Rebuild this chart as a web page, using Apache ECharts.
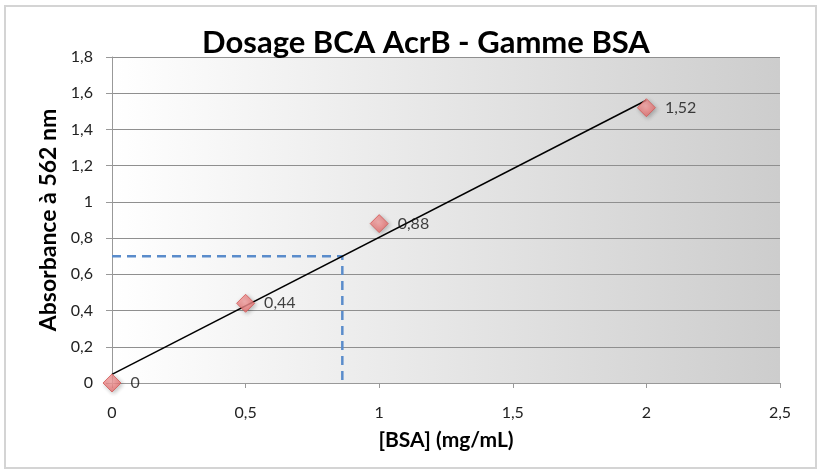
<!DOCTYPE html>
<html>
<head>
<meta charset="utf-8">
<script src="https://cdn.jsdelivr.net/npm/echarts@6/dist/echarts.min.js"></script>
<style>
  html, body { margin: 0; padding: 0; background: #fff; }
  #chart { width: 821px; height: 470px; }
</style>
</head>
<body>
<div id="chart"></div>
<script>
// Standard range: BSA concentration (mg/mL) vs absorbance at 562 nm
const concentrations = [0, 0.5, 1, 2];
const absorbances = [0, 0.44, 0.88, 1.52];

// Linear trendline endpoints
const trendX = [0, 2];
const trendY = [0.048, 1.561];

// Reading of the unknown sample on the curve
const sampleConc = 0.862;
const sampleAbs = 0.7;

const FONT = 'Lato, "Open Sans", sans-serif';
const fmt = v => String(v).replace('.', ',');

const chart = echarts.init(document.getElementById('chart'));

chart.setOption({
  animation: false,
  title: {
    text: 'Dosage BCA AcrB - Gamme BSA',
    left: 421, top: 22, textAlign: 'center',
    textStyle: { fontFamily: FONT, fontSize: 31, fontWeight: 'bold', color: '#000' }
  },
  graphic: [{
    type: 'rect', z: -10, silent: true,
    shape: { x: 5, y: 6, width: 811, height: 462 },
    style: { fill: 'none', stroke: '#d4d4d4', lineWidth: 2 }
  }],
  grid: {
    left: 112, right: 41, top: 57, bottom: 87,
    show: true, borderWidth: 0,
    backgroundColor: new echarts.graphic.LinearGradient(0, 0, 1, 0, [
      { offset: 0, color: '#ffffff' },
      { offset: 1, color: '#cdcdcd' }
    ])
  },
  xAxis: {
    type: 'value', min: 0, max: 2.5, interval: 0.5,
    name: '[BSA] (mg/mL)', nameLocation: 'middle', nameGap: 47,
    nameTextStyle: { fontFamily: FONT, fontSize: 21, fontWeight: 'bold', color: '#000' },
    axisLine: { show: true, lineStyle: { color: '#999', width: 1 } },
    axisTick: { show: true, length: 5, lineStyle: { color: '#999' } },
    axisLabel: { formatter: fmt, margin: 22, fontFamily: FONT, fontSize: 16, color: '#222' },
    splitLine: { show: false }
  },
  yAxis: {
    type: 'value', min: 0, max: 1.8, interval: 0.2,
    name: 'Absorbance à 562 nm', nameLocation: 'middle', nameGap: 52,
    nameTextStyle: { fontFamily: FONT, fontSize: 23, fontWeight: 'bold', color: '#000' },
    axisLine: { show: true, lineStyle: { color: '#999', width: 1 } },
    axisTick: { show: true, length: 6, lineStyle: { color: '#999' } },
    axisLabel: { formatter: v => fmt(Math.round(v * 10) / 10), margin: 19, fontFamily: FONT, fontSize: 16, color: '#222' },
    splitLine: { show: true, lineStyle: { color: '#8f8f8f', width: 1.2 } }
  },
  series: [
    {
      type: 'line', name: 'lecture',
      data: [[0, sampleAbs], [sampleConc, sampleAbs], [sampleConc, 0]],
      symbol: 'none', silent: true, z: 2,
      lineStyle: { color: '#5a8ccb', width: 2.5, type: [9, 6] }
    },
    {
      type: 'line', name: 'tendance',
      data: trendX.map((x, i) => [x, trendY[i]]),
      symbol: 'none', silent: true, z: 3,
      lineStyle: { color: '#000', width: 1.5 }
    },
    {
      type: 'scatter', name: 'BSA',
      data: concentrations.map((x, i) => [x, absorbances[i]]),
      symbol: 'diamond', symbolSize: 18, z: 4,
      itemStyle: {
        color: new echarts.graphic.RadialGradient(0.45, 0.4, 0.7, [
          { offset: 0, color: '#fba8a8' },
          { offset: 1, color: '#e86262' }
        ]),
        borderColor: '#d25a58', borderWidth: 1,
        shadowBlur: 4, shadowColor: 'rgba(0,0,0,0.3)', shadowOffsetX: 1.5, shadowOffsetY: 1.5
      },
      label: {
        show: true, position: 'right', distance: 9,
        formatter: p => fmt(p.value[1]),
        fontFamily: FONT, fontSize: 16, color: '#111'
      }
    }
  ]
});
</script>
</body>
</html>
